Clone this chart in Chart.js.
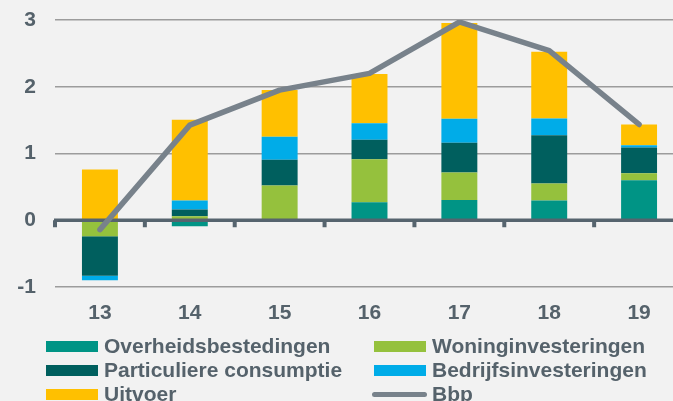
<!DOCTYPE html>
<html>
<head>
<meta charset="utf-8">
<script src="https://cdn.jsdelivr.net/npm/chart.js@4.4.1/dist/chart.umd.min.js"></script>
<style>
  html, body {
    margin: 0;
    padding: 0;
    background: #f2f2f2;
    width: 673px;
    height: 401px;
    overflow: hidden;
  }
  #wrap {
    position: absolute;
    left: 0;
    top: 0;
    width: 684px;
    height: 330px;
  }
  #legend {
    position: absolute;
    left: 0;
    top: 0;
    width: 673px;
    height: 401px;
    font-family: "Liberation Sans", Arial, sans-serif;
    font-weight: bold;
    font-size: 21px;
    color: #55626b;
    pointer-events: none;
  }
  .item {
    position: absolute;
    height: 24px;
    line-height: 24px;
    white-space: nowrap;
  }
  .swatch {
    position: absolute;
    left: 0;
    top: 7px;
    width: 52px;
    height: 11px;
  }
  .swatch.line {
    left: -2px;
    top: 10px;
    width: 55px;
    height: 5px;
    border-radius: 3px;
  }
  .label {
    position: absolute;
    left: 58px;
    top: 0;
  }
</style>
</head>
<body>
<div id="wrap"><canvas id="chart" width="684" height="330"></canvas></div>
<div id="legend"></div>
<script>
const years = ["13", "14", "15", "16", "17", "18", "19"];

const overheid = [0, -0.09, 0, 0.27, 0.305, 0.295, 0.6];
const woning = [-0.24, 0.06, 0.52, 0.645, 0.41, 0.255, 0.105];
const particulier = [-0.59, 0.1, 0.385, 0.29, 0.445, 0.725, 0.385];
const bedrijf = [-0.07, 0.135, 0.345, 0.25, 0.36, 0.25, 0.035];
const uitvoer = [0.76, 1.21, 0.7, 0.735, 1.435, 1.0, 0.31];
const bbp = [-0.14, 1.425, 1.95, 2.2, 2.97, 2.54, 1.435];

const yTicks = [-1, 0, 1, 2, 3];

const textColor = "#55626b";
const axisColor = "#56646e";

function barSet(label, data, color) {
  return {
    type: "bar",
    label: label,
    data: data,
    backgroundColor: color,
    borderWidth: 0,
    stack: "s",
    order: 1,
    categoryPercentage: 0.8,
    barPercentage: 0.5,
  };
}

// zero line with small tick marks, drawn over the bars but under the Bbp line
const zeroAxis = {
  id: "zeroAxis",
  beforeDatasetDraw(chart, args) {
    if (args.meta.type !== "line") return;
    const ctx = chart.ctx;
    const area = chart.chartArea;
    const y0 = chart.scales.y.getPixelForValue(0);
    const step = (area.right - area.left) / years.length;
    ctx.save();
    ctx.strokeStyle = axisColor;
    ctx.lineWidth = 3.5;
    ctx.beginPath();
    ctx.moveTo(area.left - 1, y0);
    ctx.lineTo(area.right, y0);
    ctx.stroke();
    ctx.lineWidth = 4;
    for (let i = 0; i <= years.length; i++) {
      const tx = area.left + i * step;
      ctx.beginPath();
      ctx.moveTo(tx, y0);
      ctx.lineTo(tx, y0 + 7);
      ctx.stroke();
    }
    ctx.restore();
  },
};

const ctx = document.getElementById("chart").getContext("2d");
const chart = new Chart(ctx, {
  data: {
    labels: years,
    datasets: [
      barSet("Overheidsbestedingen", overheid, "#009485"),
      barSet("Woninginvesteringen", woning, "#95c13d"),
      barSet("Particuliere consumptie", particulier, "#005f5e"),
      barSet("Bedrijfsinvesteringen", bedrijf, "#00ace8"),
      barSet("Uitvoer", uitvoer, "#ffc000"),
      {
        type: "line",
        label: "Bbp",
        data: bbp,
        borderColor: "#78828b",
        backgroundColor: "#78828b",
        borderWidth: 5.5,
        borderCapStyle: "round",
        borderJoinStyle: "round",
        pointRadius: 0,
        tension: 0,
        order: 0,
      },
    ],
  },
  options: {
    responsive: false,
    animation: false,
    layout: { padding: { top: 20, right: 0, left: 0, bottom: 0 } },
    plugins: {
      legend: { display: false },
      tooltip: { enabled: false },
    },
    scales: {
      x: {
        stacked: true,
        grid: { display: false, drawTicks: false },
        border: { display: false },
        ticks: {
          color: textColor,
          padding: 14,
          font: { family: "'Liberation Sans', Arial, sans-serif", size: 21, weight: "bold" },
        },
        afterFit(scale) {
          scale.height = 43;
          scale.paddingLeft = 0;
          scale.paddingRight = 0;
        },
      },
      y: {
        stacked: true,
        min: -1,
        max: 3,
        afterBuildTicks(scale) {
          scale.ticks = yTicks.map((v) => ({ value: v }));
        },
        grid: {
          color: "#9c9c9c",
          lineWidth: 1.5,
          drawTicks: false,
        },
        border: { display: false },
        ticks: {
          color: textColor,
          padding: 19,
          font: { family: "'Liberation Sans', Arial, sans-serif", size: 21, weight: "bold" },
        },
        afterFit(scale) {
          scale.width = 55;
          scale.paddingTop = 0;
          scale.paddingBottom = 0;
        },
      },
    },
  },
  plugins: [zeroAxis],
});

// legend in two columns, built from the chart datasets
const legend = document.getElementById("legend");
chart.data.datasets.forEach((ds, i) => {
  const col = i % 2;
  const row = Math.floor(i / 2);
  const item = document.createElement("div");
  item.className = "item";
  item.style.left = (col === 0 ? 46 : 374) + "px";
  item.style.top = 334 + row * 24 + "px";
  const sw = document.createElement("div");
  sw.className = ds.type === "line" ? "swatch line" : "swatch";
  sw.style.background = ds.type === "line" ? ds.borderColor : ds.backgroundColor;
  const lb = document.createElement("span");
  lb.className = "label";
  lb.textContent = ds.label;
  item.appendChild(sw);
  item.appendChild(lb);
  legend.appendChild(item);
});
</script>
</body>
</html>
